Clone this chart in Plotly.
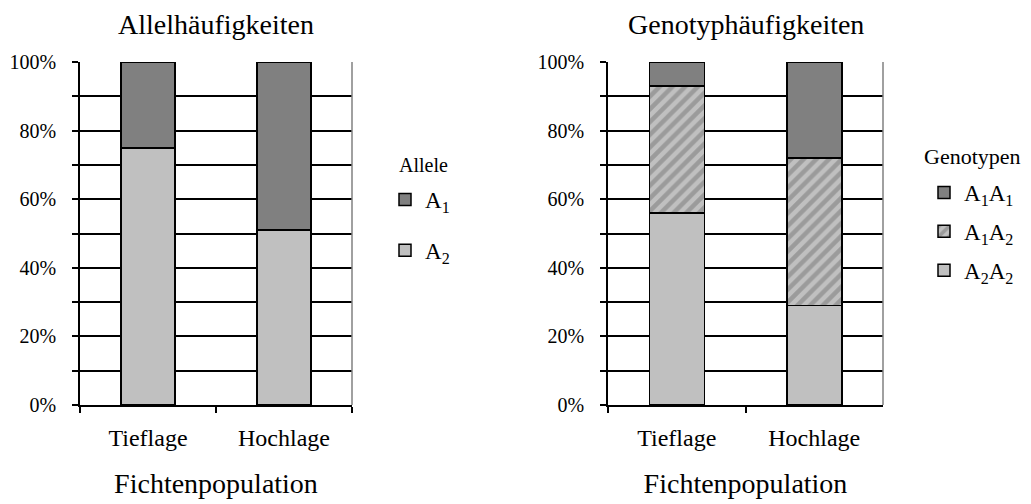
import plotly.graph_objects as go

# Data
populations = ["Tieflage", "Hochlage"]
allele_A1 = [25, 49]
allele_A2 = [75, 51]
geno_A1A1 = [7, 28]
geno_A1A2 = [37, 43]
geno_A2A2 = [56, 29]
y_ticks = [0, 10, 20, 30, 40, 50, 60, 70, 80, 90, 100]
y_labels = ["0%", "", "20%", "", "40%", "", "60%", "", "80%", "", "100%"]

DARK = "#808080"
LIGHT = "#c0c0c0"
FONT = "Liberation Serif"

W, H = 1031, 504
LEFT_DOM = [80 / W, 352 / W]
RIGHT_DOM = [608 / W, 883 / W]
Y_DOM = [(H - 405) / H, (H - 62) / H]

fig = go.Figure()

bar_line = dict(color="black", width=1.5)
hatch = dict(shape="/", fgcolor="#767676", bgcolor=LIGHT, size=9, solidity=0.5)

# Left chart: allele frequencies (A2 at the bottom of each stack)
fig.add_trace(go.Bar(x=populations, y=allele_A2, name="A<sub>2</sub>",
                     marker=dict(color=LIGHT, line=bar_line),
                     xaxis="x", yaxis="y", legend="legend",
                     legendgroup="a2", legendrank=2))
fig.add_trace(go.Bar(x=populations, y=allele_A1, name="A<sub>1</sub>",
                     marker=dict(color=DARK, line=bar_line),
                     xaxis="x", yaxis="y", legend="legend",
                     legendgroup="a1", legendrank=1))

# Right chart: genotype frequencies
fig.add_trace(go.Bar(x=populations, y=geno_A2A2, name="A<sub>2</sub>A<sub>2</sub>",
                     marker=dict(color=LIGHT, line=bar_line),
                     xaxis="x2", yaxis="y2", legend="legend2",
                     legendgroup="g22", legendrank=3))
fig.add_trace(go.Bar(x=populations, y=geno_A1A2, name="A<sub>1</sub>A<sub>2</sub>",
                     marker=dict(color=LIGHT, line=bar_line, pattern=hatch),
                     xaxis="x2", yaxis="y2", legend="legend2",
                     legendgroup="g12", legendrank=2))
fig.add_trace(go.Bar(x=populations, y=geno_A1A1, name="A<sub>1</sub>A<sub>1</sub>",
                     marker=dict(color=DARK, line=bar_line),
                     xaxis="x2", yaxis="y2", legend="legend2",
                     legendgroup="g11", legendrank=1))

yaxis_common = dict(
    range=[0, 100], tickvals=y_ticks, ticktext=y_labels,
    showgrid=True, gridcolor="black", gridwidth=1.5,
    ticks="outside", ticklen=6, tickwidth=1.5, tickcolor="black",
    showline=True, linecolor="black", linewidth=1.5,
    zeroline=False, tickfont=dict(family=FONT, size=20, color="black"),
    ticklabelstandoff=12, automargin=False,
    domain=Y_DOM, fixedrange=True,
)
xaxis_common = dict(
    showline=True, linecolor="black", linewidth=2,
    ticks="outside", ticklen=6, tickwidth=1.5, tickcolor="black",
    tickson="boundaries", showgrid=False,
    tickfont=dict(family=FONT, size=24, color="black"),
    ticklabelstandoff=10, automargin=False,
    title=dict(text="Fichtenpopulation", font=dict(family=FONT, size=28, color="black"),
               standoff=24),
)

legend_common = dict(
    font=dict(family=FONT, size=23, color="black"),
    bgcolor="rgba(0,0,0,0)", yanchor="top", xanchor="left",
    itemwidth=30, traceorder="grouped",
)

fig.update_layout(
    width=W, height=H,
    margin=dict(l=0, r=0, t=0, b=0, autoexpand=False),
    paper_bgcolor="white", plot_bgcolor="white",
    barmode="stack", bargap=0.6,
    font=dict(family=FONT, color="black"),
    xaxis=dict(domain=LEFT_DOM, anchor="y", **xaxis_common),
    yaxis=dict(anchor="x", **yaxis_common),
    xaxis2=dict(domain=RIGHT_DOM, anchor="y2", **xaxis_common),
    yaxis2=dict(anchor="x2", **yaxis_common),
    legend=dict(x=385 / W, y=1 - 178 / H, tracegroupgap=18, **legend_common),
    legend2=dict(x=924 / W, y=1 - 171 / H, tracegroupgap=6, **legend_common),
    annotations=[
        dict(text="Allelhäufigkeiten", x=sum(LEFT_DOM) / 2, y=1 - 24 / H,
             xref="paper", yref="paper", xanchor="center", yanchor="middle",
             showarrow=False, font=dict(family=FONT, size=28, color="black")),
        dict(text="Genotyphäufigkeiten", x=sum(RIGHT_DOM) / 2, y=1 - 24 / H,
             xref="paper", yref="paper", xanchor="center", yanchor="middle",
             showarrow=False, font=dict(family=FONT, size=28, color="black")),
        dict(text="Allele", x=397 / W, y=1 - 165 / H,
             xref="paper", yref="paper", xanchor="left", yanchor="middle",
             showarrow=False, font=dict(family=FONT, size=20, color="black")),
        dict(text="Genotypen", x=922 / W, y=1 - 156 / H,
             xref="paper", yref="paper", xanchor="left", yanchor="middle",
             showarrow=False, font=dict(family=FONT, size=22, color="black")),
    ],
    shapes=[
        dict(type="line", xref="x domain", yref="y domain", x0=1, x1=1, y0=0, y1=1,
             line=dict(color="#808080", width=1.5)),
        dict(type="line", xref="x2 domain", yref="y2 domain", x0=1, x1=1, y0=0, y1=1,
             line=dict(color="#808080", width=1.5)),
    ],
)

fig.write_html("out.html")
